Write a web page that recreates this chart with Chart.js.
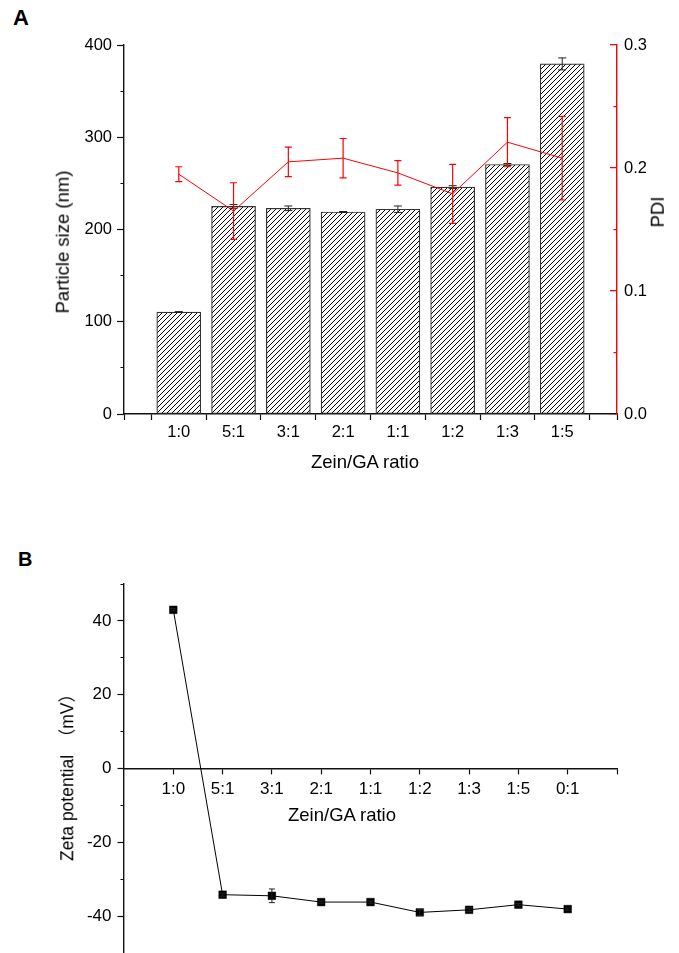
<!DOCTYPE html>
<html lang="en">
<head>
  <meta charset="UTF-8">
  <title>Zein/GA ratio – particle size, PDI and zeta potential</title>
  <script src="https://cdn.jsdelivr.net/npm/chart.js"></script>
  <style>
    html, body { margin: 0; padding: 0; overflow: hidden; background: #fff; }
    body { width: 679px; height: 953px; position: relative; color: #000;
           font-family: "Liberation Sans", Arial, "Noto Sans CJK SC", sans-serif; }
    canvas { position: absolute; left: 0; }
    #chartA { top: 0; }
    #chartB { top: 540px; }
    .panel { position: absolute; font-weight: bold; line-height: 1; }
    .title { position: absolute; white-space: pre; line-height: 1; font-size: 18.5px;
             transform: translate(-50%, -50%); }
    .vert { transform: translate(-50%, -50%) rotate(-90deg); }
  </style>
</head>

<body>
  <div class="panel" style="left:13px; top:7px; font-size:22px;">A</div>
  <div class="panel" style="left:18px; top:549px; font-size:20px;">B</div>

  <canvas id="chartA" width="679" height="500"></canvas>
  <canvas id="chartB" width="679" height="460"></canvas>

  <div class="title vert" style="left:63px; top:242px;">Particle size (nm)</div>
  <div class="title vert" style="left:658px; top:212px;">PDI</div>
  <div class="title" style="left:365px; top:462px;">Zein/GA ratio</div>
  <div class="title vert" style="left:68px; top:773px; font-size:17.5px;">Zeta potential　（mV）</div>
  <div class="title" style="left:342px; top:815px;">Zein/GA ratio</div>

  <script>
    // panel A
    const ratiosA = ['1:0', '5:1', '3:1', '2:1', '1:1', '1:2', '1:3', '1:5'];
    const sizeNm = [110.5, 225, 223, 219, 222, 246, 270.5, 379.5];
    const sizeErr = [0.5, 2, 2.5, 0.5, 3.5, 1.5, 1, 6.5];
    const pdi = [0.195, 0.165, 0.205, 0.208, 0.196, 0.179, 0.221, 0.208];
    const pdiErr = [0.006, 0.023, 0.012, 0.016, 0.010, 0.024, 0.020, 0.034];

    // panel B
    const ratiosB = ['1:0', '5:1', '3:1', '2:1', '1:1', '1:2', '1:3', '1:5', '0:1'];
    const zeta = [43.0, -34.2, -34.5, -36.2, -36.2, -39.0, -38.3, -36.9, -38.1];
    const zetaErr = [0.3, 0.4, 1.85, 0.3, 0.3, 0.8, 0.5, 0.3, 0.3];

    Chart.defaults.font.family = '"Liberation Sans", Arial, sans-serif';
    Chart.defaults.color = '#000';

    const isTenth = v => Math.abs(v * 10 - Math.round(v * 10)) < 1e-6;

    // draws vertical error bars with caps on top of a dataset
    const errorBarPlugin = {
      id: 'errorBars',
      afterDatasetsDraw(chart, args, opts) {
        const ctx = chart.ctx;
        (opts.sets || []).forEach(set => {
          const meta = chart.getDatasetMeta(set.dataset);
          const scale = chart.scales[meta.yAxisID];
          const values = chart.data.datasets[set.dataset].data;
          ctx.save();
          ctx.strokeStyle = set.color;
          ctx.lineWidth = set.width || 1;
          meta.data.forEach((el, i) => {
            const v = values[i].y;
            const e = set.errors[i];
            const top = scale.getPixelForValue(v + e);
            const bot = scale.getPixelForValue(v - e);
            const h = set.cap / 2;
            ctx.beginPath();
            ctx.moveTo(el.x, top); ctx.lineTo(el.x, bot);
            ctx.moveTo(el.x - h, top); ctx.lineTo(el.x + h, top);
            ctx.moveTo(el.x - h, bot); ctx.lineTo(el.x + h, bot);
            ctx.stroke();
          });
          ctx.restore();
        });
      }
    };

    function hatch(size, color) {
      const c = document.createElement('canvas');
      c.width = size; c.height = size;
      const g = c.getContext('2d');
      g.fillStyle = '#fff';
      g.fillRect(0, 0, size, size);
      g.strokeStyle = color;
      g.lineWidth = 1;
      g.beginPath();
      g.moveTo(0, size); g.lineTo(size, 0);
      g.moveTo(-1, 1); g.lineTo(1, -1);
      g.moveTo(size - 1, size + 1); g.lineTo(size + 1, size - 1);
      g.stroke();
      return g.createPattern(c, 'repeat');
    }

    const axisBorder = { color: '#111', width: 1.4 };

    new Chart(document.getElementById('chartA'), {
      type: 'bar',
      data: {
        datasets: [
          {
            type: 'line',
            label: 'PDI',
            data: pdi.map((v, i) => ({ x: i + 1, y: v })),
            yAxisID: 'y1',
            borderColor: '#ff0000',
            borderWidth: 1,
            pointRadius: 0,
            tension: 0,
            order: 0
          },
          {
            type: 'bar',
            label: 'Particle size',
            data: sizeNm.map((v, i) => ({ x: i + 1, y: v })),
            yAxisID: 'y',
            backgroundColor: hatch(5, '#000'),
            borderColor: '#333',
            borderWidth: 1.2,
            borderSkipped: false,
            barThickness: 44,
            order: 1
          }
        ]
      },
      options: {
        responsive: false,
        animation: false,
        events: [],
        layout: { padding: { top: 45, left: 0, right: 0, bottom: 0 } },
        plugins: {
          legend: { display: false },
          tooltip: { enabled: false },
          errorBars: {
            sets: [
              { dataset: 1, errors: sizeErr, color: '#222', cap: 8, width: 1 },
              { dataset: 0, errors: pdiErr, color: '#ff0000', cap: 7, width: 1.2 }
            ]
          }
        },
        scales: {
          x: {
            type: 'linear',
            min: 0,
            max: ratiosA.length + 1,
            offset: false,
            border: axisBorder,
            grid: {
              offset: false,
              drawOnChartArea: false,
              tickLength: 6,
              tickWidth: 1.2,
              tickColor: c => (Number.isInteger(c.tick.value) && c.tick.value >= 1 && c.tick.value <= ratiosA.length) ? 'rgba(0,0,0,0)' : '#111'
            },
            ticks: {
              stepSize: 0.5,
              autoSkip: false,
              maxRotation: 0,
              padding: 2.5,
              font: { size: 16.5 },
              callback: v => (Number.isInteger(v) && v >= 1 && v <= ratiosA.length) ? ratiosA[v - 1] : ''
            },
            afterFit(s) { s.height = 86; }
          },
          y: {
            position: 'left',
            min: 0,
            max: 400,
            border: axisBorder,
            grid: {
              drawOnChartArea: false,
              tickLength: 7,
              tickWidth: 1.2,
              tickColor: '#111',
              tickBorderDash: c => c.tick.value % 100 === 0 ? [] : [0, 3.5, 3.5, 50]
            },
            ticks: {
              stepSize: 50,
              padding: 5,
              font: { size: 16.5 },
              callback: v => v % 100 === 0 ? String(v) : ''
            },
            afterFit(s) { s.width = 124; }
          },
          y1: {
            position: 'right',
            min: 0,
            max: 0.3,
            border: {
              color: '#ff0000',
              width: 1.4,
              // only the last few pixels of each grid line show: inward tick marks
              dash: c => {
                if (!c.tick) return [];
                const a = c.chart.chartArea;
                const w = a.right - a.left;
                const len = isTenth(c.tick.value) ? 7 : 3.5;
                return [0, w - len, len, 1000];
              }
            },
            grid: {
              drawOnChartArea: true,
              drawTicks: false,
              color: '#ff0000',
              lineWidth: 1.2
            },
            ticks: {
              stepSize: 0.05,
              padding: 7,
              font: { size: 16.5 },
              callback: v => isTenth(v) ? v.toFixed(1) : ''
            },
            afterFit(s) { s.width = 62; }
          }
        }
      },
      plugins: [errorBarPlugin]
    });

    new Chart(document.getElementById('chartB'), {
      type: 'line',
      data: {
        datasets: [{
          label: 'Zeta potential',
          data: zeta.map((v, i) => ({ x: i + 1, y: v })),
          borderColor: '#000',
          borderWidth: 1,
          tension: 0,
          pointStyle: 'rect',
          pointRadius: 5.4,
          pointBackgroundColor: '#000',
          pointBorderColor: '#000',
          pointBorderWidth: 0.5
        }]
      },
      options: {
        responsive: false,
        animation: false,
        events: [],
        layout: { padding: { top: 44, left: 0, right: 62, bottom: 47 } },
        plugins: {
          legend: { display: false },
          tooltip: { enabled: false },
          errorBars: {
            sets: [{ dataset: 0, errors: zetaErr, color: '#222', cap: 6, width: 1 }]
          }
        },
        scales: {
          x: {
            type: 'linear',
            position: { y: 0 },
            min: 0,
            max: ratiosB.length + 1,
            border: axisBorder,
            grid: {
              drawOnChartArea: false,
              tickLength: 5,
              tickWidth: 1.2,
              tickColor: c => c.tick.value === 0 ? 'rgba(0,0,0,0)' : '#111'
            },
            ticks: {
              stepSize: 1,
              autoSkip: false,
              maxRotation: 0,
              padding: 6,
              font: { size: 17 },
              callback: v => (v >= 1 && v <= ratiosB.length) ? ratiosB[v - 1] : ''
            }
          },
          y: {
            min: -50,
            max: 50,
            border: axisBorder,
            grid: {
              drawOnChartArea: false,
              tickLength: 6.5,
              tickWidth: 1.2,
              tickColor: '#111',
              tickBorderDash: c => c.tick.value % 20 === 0 ? [] : [0, 3, 3.5, 50]
            },
            ticks: {
              stepSize: 10,
              padding: 6,
              font: { size: 17 },
              callback: v => v % 20 === 0 ? String(v) : ''
            },
            afterFit(s) { s.width = 124; }
          }
        }
      },
      plugins: [errorBarPlugin]
    });
  </script>
</body>
</html>
